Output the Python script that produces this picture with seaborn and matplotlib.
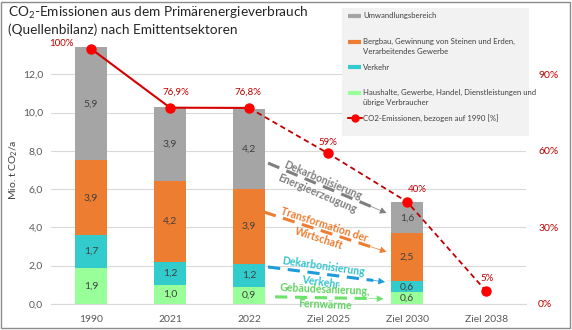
import numpy as np
import pandas as pd
import matplotlib
matplotlib.use("Agg")
import matplotlib.pyplot as plt
from matplotlib.lines import Line2D
from matplotlib.patches import Rectangle
import seaborn as sns

# ---- data ---------------------------------------------------------------
categories = ["1990", "2021", "2022", "Ziel 2025", "Ziel 2030", "Ziel 2038"]
bar_years = ["1990", "2021", "2022", "Ziel 2030"]
haushalte = [1.9, 1.0, 0.9, 0.6]
verkehr = [1.7, 1.2, 1.2, 0.6]
bergbau = [3.9, 4.2, 3.9, 2.5]
umwandlung = [5.9, 3.9, 4.2, 1.6]
co2_pct = [100, 76.9, 76.8, 59, 40, 5]
co2_labels = ["100%", "76,9%", "76,8%", "59%", "40%", "5%"]
left_ticks = [0, 2, 4, 6, 8, 10, 12]
right_ticks = [0, 30, 60, 90]

layer_names = ["Haushalte, Gewerbe, Handel, Dienstleistungen und übrige Verbraucher",
               "Verkehr",
               "Bergbau, Gewinnung von Steinen und Erden, Verarbeitendes Gewerbe",
               "Umwandlungsbereich"]
layer_values = [haushalte, verkehr, bergbau, umwandlung]
layer_colors = ["#99FF99", "#33CCCC", "#ED7D31", "#A5A5A5"]

# ---- style --------------------------------------------------------------
sns.set_theme(style="white")
plt.rcParams["font.family"] = ["Lato", "DejaVu Sans"]
plt.rcParams["mathtext.default"] = "regular"

fig = plt.figure(figsize=(5.72, 3.30), dpi=100)
ax = fig.add_axes([0.090, 0.079, 0.829, 0.812])

# ---- stacked bars -------------------------------------------------------
bottom = np.zeros(len(bar_years))
for name, vals, col in zip(layer_names, layer_values, layer_colors):
    df = pd.DataFrame({"Jahr": bar_years, "Wert": vals})
    sns.barplot(data=df, x="Jahr", y="Wert", order=categories, color=col,
                saturation=1, width=0.4, bottom=bottom, errorbar=None,
                linewidth=0, ax=ax, zorder=2)
    for yr, v, b in zip(bar_years, vals, bottom):
        ax.text(categories.index(yr), b + v / 2, f"{v:.1f}".replace(".", ","),
                ha="center", va="center", fontsize=7.5, color="#404040", zorder=3)
    bottom = bottom + np.array(vals)

ax.set_xlim(-0.5, len(categories) - 0.5)
ax.set_ylim(0, 14)
ax.set_yticks(left_ticks)
ax.set_yticklabels([f"{t:.1f}".replace(".", ",") for t in left_ticks])
ax.set_xlabel("")
ax.set_ylabel("Mio. t CO$_2$/a", fontsize=7.5, color="#404040", labelpad=2)
ax.yaxis.grid(True, color="#D9D9D9", lw=0.8, zorder=0)
ax.set_axisbelow(True)
ax.tick_params(axis="both", length=0, labelsize=7.5, colors="#595959", pad=6)
ax.tick_params(axis="x", pad=8)
for s in ["top", "right", "left"]:
    ax.spines[s].set_visible(False)
ax.spines["bottom"].set_color("#D9D9D9")
ax.spines["bottom"].set_linewidth(0.8)

# ---- dashed arrows with rotated captions --------------------------------
arrows = [
    # start, end, text, text centre, rotation, line colour, text colour
    ((2.24, 7.36), (3.74, 4.75), "Dekarbonisierung\nEnergieerzeugung", (2.90, 6.12), -23, "#7F7F7F", "#7F7F7F"),
    ((2.19, 4.80), (3.74, 2.72), "Transformation der\nWirtschaft", (2.92, 3.78), -18, "#ED7D31", "#ED7D31"),
    ((2.24, 1.93), (3.72, 1.15), "Dekarbonisierung\nVerkehr", (2.92, 1.55), -8, "#1E9BDB", "#33C3CF"),
    ((2.33, 0.37), (3.70, 0.27), "Gebäudesanierung,\nFernwärme", (2.96, 0.36), -2.5, "#6BE36B", "#5FD35F"),
]
for (x0, y0), (x1, y1), txt, (tx, ty), rot, lc, tc in arrows:
    dx, dy = x1 - x0, y1 - y0
    ax.plot([x0, x0 + 0.9 * dx], [y0, y0 + 0.9 * dy], color=lc, lw=2.2,
            dashes=(4, 2.5), solid_capstyle="butt", zorder=4)
    ax.annotate("", xy=(x1, y1), xytext=(x0 + 0.87 * dx, y0 + 0.87 * dy),
                arrowprops=dict(arrowstyle="-|>", color=lc, lw=0.5,
                                mutation_scale=10, shrinkA=0, shrinkB=0),
                zorder=4)
    ax.text(tx, ty, txt, ha="center", va="center", rotation=rot,
            rotation_mode="anchor", fontsize=7.6, fontweight="bold",
            color=tc, linespacing=1.45, zorder=5)

# ---- percentage line on the secondary axis ------------------------------
ax2 = ax.twinx()
xs = np.arange(len(categories))
ax2.plot(xs[:3], co2_pct[:3], color="#D40000", lw=1.5, zorder=5)
ax2.plot(xs[2:], co2_pct[2:], color="#C00000", lw=1.3, dashes=(3, 2), zorder=5)
ax2.plot(xs, co2_pct, ls="none", marker="o", ms=6.5, color="#FF0000", zorder=6)
offsets = [(-21, 4), (4, 11), (-1, 11), (0, 8), (7, 9), (1, 9)]
for x, v, lab, (ox, oy) in zip(xs, co2_pct, co2_labels, offsets):
    ax2.annotate(lab, (x, v), xytext=(ox, oy), textcoords="offset points",
                 ha="center", va="center", fontsize=7, color="#C00000")
ax2.set_ylim(0, 105)
ax2.set_yticks(right_ticks)
ax2.set_yticklabels([f"{t}%" for t in right_ticks])
ax2.tick_params(axis="y", length=0, labelsize=7.5, colors="#C00000", pad=9)
ax2.grid(False)
for s in ax2.spines.values():
    s.set_visible(False)

# ---- title --------------------------------------------------------------
fig.text(8 / 572, 1 - 5 / 330,
         "CO$_2$-Emissionen aus dem Primärenergieverbrauch\n(Quellenbilanz) nach Emittentsektoren",
         ha="left", va="top", fontsize=9.8, color="#262626", linespacing=1.25)

# ---- legend box ---------------------------------------------------------
W, H = 572.0, 330.0
def fx(px): return px / W
def fy(py): return 1 - py / H

fig.add_artist(Rectangle((fx(342), fy(136)), 187 / W, 128 / H,
                         transform=fig.transFigure, facecolor="#F2F2F2",
                         edgecolor="none", zorder=10))
legend_rows = [
    (15.5, ["Umwandlungsbereich"], "#A5A5A5", False),
    (41.5, ["Bergbau, Gewinnung von Steinen und Erden,", "Verarbeitendes Gewerbe"], "#ED7D31", False),
    (67.0, ["Verkehr"], "#33CCCC", False),
    (92.5, ["Haushalte, Gewerbe, Handel, Dienstleistungen und", "übrige Verbraucher"], "#99FF99", False),
    (118.0, ["CO2-Emissionen, bezogen auf 1990 [%]"], "#FF0000", True),
]
for yy, lines, col, is_line in legend_rows:
    if is_line:
        fig.add_artist(Line2D([fx(348), fx(362)], [fy(yy), fy(yy)], color="#D40000",
                              lw=1.5, transform=fig.transFigure, zorder=11))
        fig.add_artist(Line2D([fx(355)], [fy(yy)], marker="o", ms=5, color="#FF0000",
                              transform=fig.transFigure, zorder=12))
    else:
        fig.add_artist(Line2D([fx(348), fx(361)], [fy(yy), fy(yy)], color=col, lw=3,
                              solid_capstyle="butt", transform=fig.transFigure, zorder=11))
    for i, ln in enumerate(lines):
        fig.text(fx(363), fy(yy + i * 10), ln, ha="left", va="center",
                 fontsize=5.6, color="#404040", zorder=12)

# ---- outer frame --------------------------------------------------------
fig.add_artist(Rectangle((1 / W, 2 / H), 569 / W, 326 / H, transform=fig.transFigure,
                         facecolor="none", edgecolor="#8C8C8C", lw=1, zorder=20))

fig.savefig("out.png", dpi=100)
